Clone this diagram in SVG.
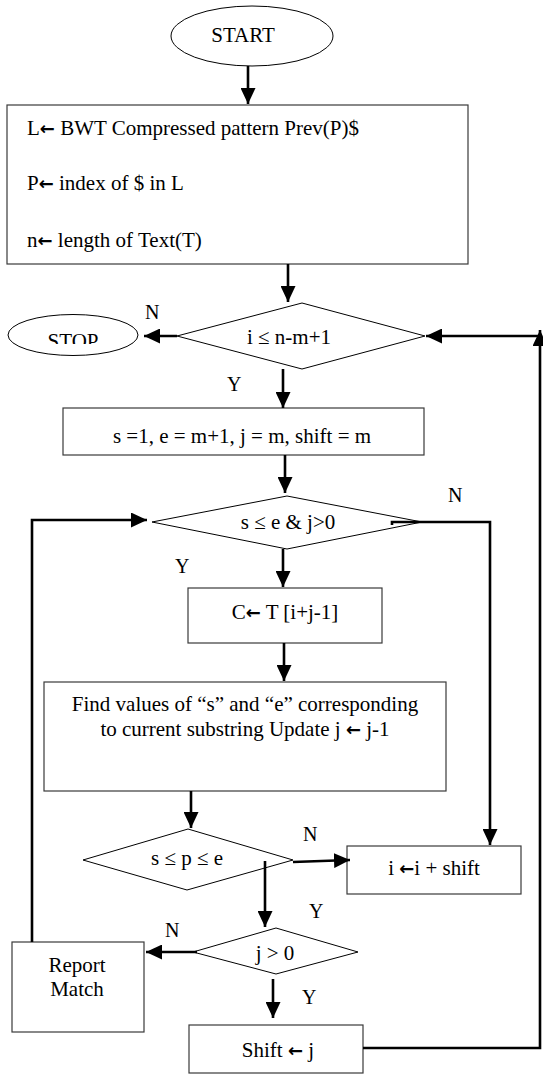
<svg xmlns="http://www.w3.org/2000/svg" width="543" height="1075" viewBox="0 0 543 1075">
<style>
text{font-family:"Liberation Serif","Times New Roman",serif;font-size:21px;fill:#000}
.c{text-anchor:middle}
.lbl{font-size:20px}
.ar{font-family:"DejaVu Sans",sans-serif;font-weight:bold;font-size:18px}
.box{fill:#fff;stroke:#3a3a3a;stroke-width:1.2}
.shape{fill:#fff;stroke:#000;stroke-width:1}
.con{fill:none;stroke:#000;stroke-width:2.6;marker-end:url(#ah)}
</style>
<defs>
<marker id="ah" markerUnits="userSpaceOnUse" markerWidth="16" markerHeight="15" refX="16" refY="7.5" orient="auto">
<path d="M0,0 L16,7.5 L0,15 z" fill="#000"/>
</marker>
<clipPath id="stopclip"><rect x="0" y="300" width="160" height="44"/></clipPath>
</defs>
<rect width="543" height="1075" fill="#fff"/>

<g id="start">
<ellipse class="shape" cx="252" cy="36" rx="81" ry="30"/>
<text class="c" x="243" y="42">START</text>
</g>

<g id="init">
<rect class="box" x="7" y="105" width="461" height="159"/>
<text x="27" y="135">L<tspan class="ar">←</tspan> BWT Compressed pattern Prev(P)$</text>
<text x="27" y="190">P<tspan class="ar">←</tspan> index of $ in L</text>
<text x="27" y="247">n<tspan class="ar">←</tspan> length of Text(T)</text>
</g>

<g id="stop">
<ellipse class="shape" cx="73" cy="335" rx="65" ry="20.5"/>
<text class="c" x="73" y="348" clip-path="url(#stopclip)">STOP</text>
</g>

<g id="cond1">
<polygon class="shape" points="177,336 302,303 425,336 302,369"/>
<text class="c" x="289" y="344">i ≤ n-m+1</text>
</g>

<g id="setvars">
<rect class="box" x="63" y="408" width="361" height="47"/>
<text class="c" x="242" y="443">s =1, e = m+1, j = m, shift = m</text>
</g>

<g id="cond2">
<polygon class="shape" points="152,522 287,496 422,522 287,549"/>
<text class="c" x="288" y="529">s ≤ e &amp; j&gt;0</text>
</g>

<g id="readc">
<rect class="box" x="188" y="588" width="194" height="55"/>
<text class="c" x="285" y="619">C<tspan class="ar">←</tspan> T [i+j-1]</text>
</g>

<g id="find">
<rect class="box" x="44" y="682" width="402" height="109"/>
<text class="c" x="245" y="711">Find values of “s” and “e” corresponding</text>
<text class="c" x="245" y="736">to current substring Update j <tspan class="ar">←</tspan> j-1</text>
</g>

<g id="cond3">
<polygon class="shape" points="83,860 188,829 293,860 187,890"/>
<text class="c" x="187" y="865">s ≤ p ≤ e</text>
</g>

<g id="shifti">
<rect class="box" x="347" y="846" width="174" height="48"/>
<text class="c" x="434" y="875">i <tspan class="ar">←</tspan>i + shift</text>
</g>

<g id="cond4">
<polygon class="shape" points="193,952 276,928 358,952 276,974"/>
<text class="c" x="275" y="960">j &gt; 0</text>
</g>

<g id="report">
<rect class="box" x="12" y="942" width="132" height="90"/>
<text class="c" x="77" y="972">Report</text>
<text class="c" x="77" y="996">Match</text>
</g>

<g id="shiftj">
<rect class="box" x="189" y="1025" width="174" height="48"/>
<text class="c" x="278" y="1057">Shift <tspan class="ar">←</tspan> j</text>
</g>

<g id="connectors">
<path class="con" d="M248,66 L248,104"/>
<path class="con" d="M288,264 L288,302"/>
<path class="con" d="M177,336 L144,336"/>
<path class="con" d="M540,336 L426,336"/>
<path class="con" d="M363,1048 L540,1048 L540,330"/>
<path class="con" d="M283,369 L283,408"/>
<path class="con" d="M285,455 L285,493"/>
<path class="con" d="M283,549 L283,587"/>
<path class="con" d="M284,643 L284,681"/>
<path class="con" d="M191,791 L191,828"/>
<path class="con" d="M293,862 L350,860"/>
<path class="con" d="M392,525 L392,522 L490,522 L490,845"/>
<path class="con" d="M265,861 L265,927"/>
<path class="con" d="M197,952 L146,952"/>
<path class="con" d="M273,979 L273,1018"/>
<path class="con" d="M32,942 L32,520 L147,520"/>
</g>

<g id="labels">
<text class="lbl" x="145" y="319">N</text>
<text class="lbl" x="227" y="391">Y</text>
<text class="lbl" x="448" y="502">N</text>
<text class="lbl" x="175" y="573">Y</text>
<text class="lbl" x="303" y="841">N</text>
<text class="lbl" x="309" y="918">Y</text>
<text class="lbl" x="165" y="937">N</text>
<text class="lbl" x="302" y="1004">Y</text>
</g>
</svg>
